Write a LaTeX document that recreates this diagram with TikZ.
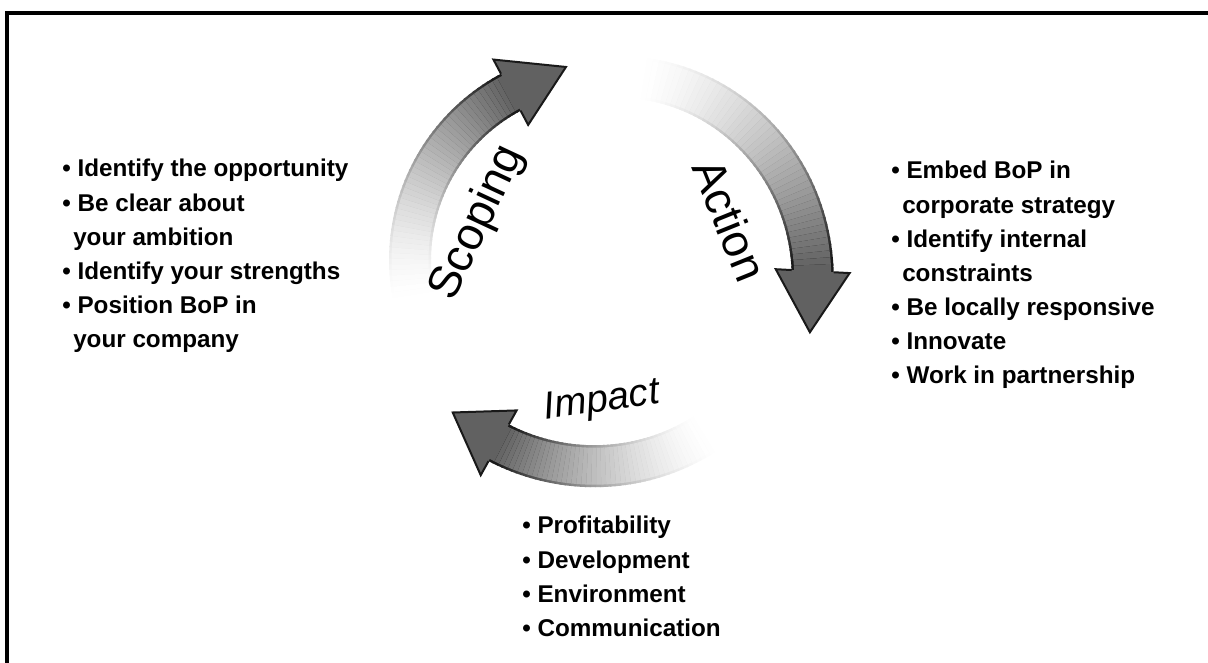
\documentclass[tikz,border=0pt]{standalone}
\usepackage{fontspec}
\setmainfont{Liberation Sans}
\usetikzlibrary{positioning}

\begin{document}
\begin{tikzpicture}[x=0.02cm,y=0.02cm,line cap=butt,
  phase/.style={font=\fontsize{26}{30}\selectfont,inner sep=0pt},
  list/.style={font=\fontsize{13.8}{19.4}\selectfont\bfseries,align=left,anchor=north west,inner sep=0pt}]
\useasboundingbox (0,0) rectangle (1208,663);
\draw[line width=0.07cm] (7,0) -- (7,650) -- (1208,650);
\coordinate (hub) at (600,403);
% tail angle/head angle/tail radius/head radius/tip angle/tip radius
\foreach \a/\b/\ra/\rb/\ta/\tr in {192/118/190/190/100/196,78/-3/186/213/-19/222,-58/-119/203/209/-134/212}{
\foreach \i in {0,...,47}{
\pgfmathsetmacro\angA{\a+(\b-\a)*\i/48}
\pgfmathsetmacro\angB{\a+(\b-\a)*(\i+1.4)/48}
\pgfmathsetmacro\radA{\ra+(\rb-\ra)*\i/48}
\pgfmathsetmacro\radB{\ra+(\rb-\ra)*(\i+1.4)/48}
\pgfmathsetmacro\gr{62*(\i/47)^1.5}
\pgfmathsetmacro\ed{min(90,1.5*\gr)}
\draw[line width=0.84cm,black!\ed] ([shift={(\angA:\radA)}]hub) -- ([shift={(\angB:\radB)}]hub);
\draw[line width=0.74cm,black!\gr] ([shift={(\angA:\radA)}]hub) -- ([shift={(\angB:\radB)}]hub);
}
\pgfmathsetmacro\rin{\rb-37}
\pgfmathsetmacro\rout{\rb+37}
\pgfmathsetmacro\ein{\rb-21}
\pgfmathsetmacro\eout{\rb+21}
\fill[black!62] ([shift={(\b:\rin)}]hub) -- ([shift={(\ta:\tr)}]hub) -- ([shift={(\b:\rout)}]hub) -- cycle;
\draw[line width=0.04cm,black!90,line join=miter] ([shift={(\b:\ein)}]hub) -- ([shift={(\b:\rin)}]hub) -- ([shift={(\ta:\tr)}]hub) -- ([shift={(\b:\rout)}]hub) -- ([shift={(\b:\eout)}]hub);
}
\node[phase,rotate=65] (scopinglabel) at (478,440) {Scoping};
\node[phase,rotate=-68] (actionlabel) at (730,443) {Action};
\node[phase,font=\fontsize{22}{26}\selectfont\itshape,rotate=8] (impactlabel) at (602,261) {Impact};
\node[list] (scopinglist) at (62,504) {• Identify the opportunity\\ • Be clear about\\ \hspace*{0.45em}your ambition\\ • Identify your strengths\\ • Position BoP in\\ \hspace*{0.45em}your company};
\node[list] (actionlist) at (891,502) {• Embed BoP in\\ \hspace*{0.45em}corporate strategy\\ • Identify internal\\ \hspace*{0.45em}constraints\\ • Be locally responsive\\ • Innovate\\ • Work in partnership};
\node[list] (impactlist) at (522,147) {• Profitability\\ • Development\\ • Environment\\ • Communication};
\end{tikzpicture}
\end{document}
